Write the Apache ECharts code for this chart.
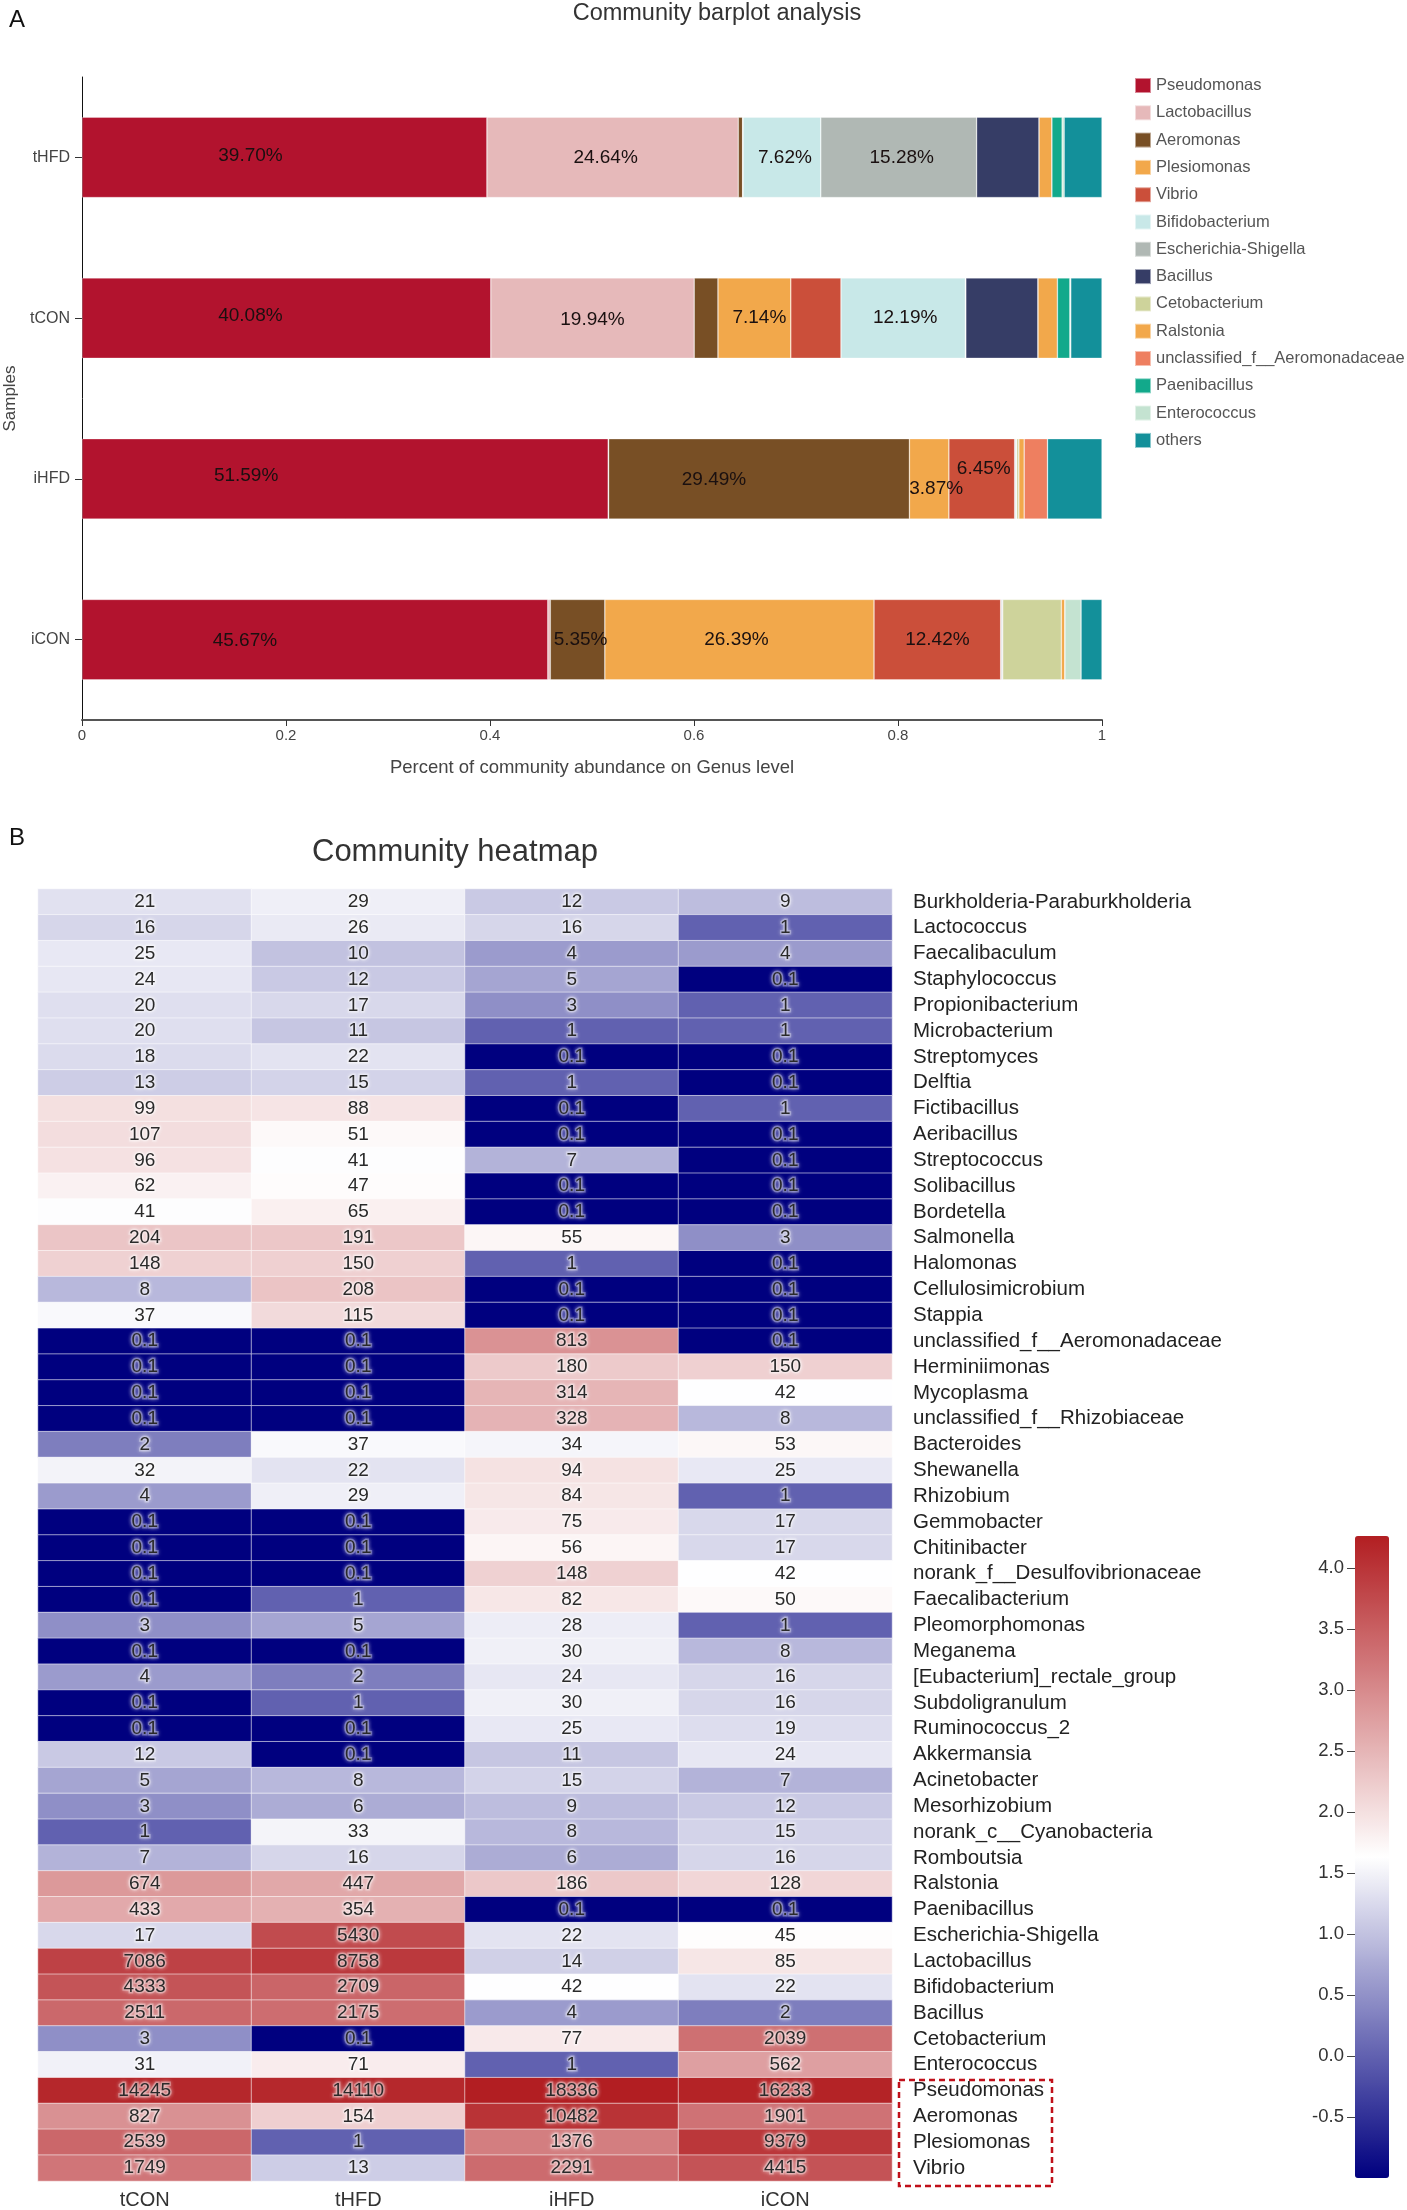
<!DOCTYPE html>
<html>
<head>
<meta charset="utf-8">
<script src="https://cdn.jsdelivr.net/npm/echarts@6/dist/echarts.min.js"></script>
<style>
html,body{margin:0;padding:0;background:#fff;}
#c{width:1407px;height:2210px;}
</style>
</head>
<body>
<div id="c"></div>
<script>
// ---------- Panel A data (percent of community abundance) ----------
const samples = ['tHFD', 'tCON', 'iHFD', 'iCON'];
const genera = ['Pseudomonas', 'Lactobacillus', 'Aeromonas', 'Plesiomonas', 'Vibrio',
  'Bifidobacterium', 'Escherichia-Shigella', 'Bacillus', 'Cetobacterium', 'Ralstonia',
  'unclassified_f__Aeromonadaceae', 'Paenibacillus', 'Enterococcus', 'others'];
const pctPseudomonas = [39.70, 40.08, 51.59, 45.67];
const pctLactobacillus = [24.64, 19.94, 0.04, 0.24];
const pctAeromonas = [0.43, 2.33, 29.49, 5.35];
const pctPlesiomonas = [0.00, 7.14, 3.87, 26.39];
const pctVibrio = [0.04, 4.92, 6.45, 12.42];
const pctBifidobacterium = [7.62, 12.19, 0.12, 0.06];
const pctEscherichia = [15.28, 0.05, 0.06, 0.13];
const pctBacillus = [6.12, 7.07, 0.01, 0.01];
const pctCetobacterium = [0.00, 0.01, 0.22, 5.74];
const pctRalstonia = [1.26, 1.90, 0.52, 0.36];
const pctUnclAeromonadaceae = [0.00, 0.00, 2.29, 0.00];
const pctPaenibacillus = [1.00, 1.22, 0.00, 0.00];
const pctEnterococcus = [0.20, 0.09, 0.00, 1.58];
const pctOthers = [3.71, 3.06, 5.34, 2.05];
const xTicks = [0, 20, 40, 60, 80, 100];

// ---------- Panel B data (read counts) ----------
const heatCols = ['tCON', 'tHFD', 'iHFD', 'iCON'];
const heatRows = ['Burkholderia-Paraburkholderia', 'Lactococcus', 'Faecalibaculum', 'Staphylococcus',
  'Propionibacterium', 'Microbacterium', 'Streptomyces', 'Delftia', 'Fictibacillus', 'Aeribacillus',
  'Streptococcus', 'Solibacillus', 'Bordetella', 'Salmonella', 'Halomonas', 'Cellulosimicrobium',
  'Stappia', 'unclassified_f__Aeromonadaceae', 'Herminiimonas', 'Mycoplasma',
  'unclassified_f__Rhizobiaceae', 'Bacteroides', 'Shewanella', 'Rhizobium', 'Gemmobacter',
  'Chitinibacter', 'norank_f__Desulfovibrionaceae', 'Faecalibacterium', 'Pleomorphomonas', 'Meganema',
  '[Eubacterium]_rectale_group', 'Subdoligranulum', 'Ruminococcus_2', 'Akkermansia', 'Acinetobacter',
  'Mesorhizobium', 'norank_c__Cyanobacteria', 'Romboutsia', 'Ralstonia', 'Paenibacillus',
  'Escherichia-Shigella', 'Lactobacillus', 'Bifidobacterium', 'Bacillus', 'Cetobacterium',
  'Enterococcus', 'Pseudomonas', 'Aeromonas', 'Plesiomonas', 'Vibrio'];
const countsTCON = [21, 16, 25, 24, 20, 20, 18, 13, 99, 107, 96, 62, 41, 204, 148, 8, 37, 0.1, 0.1, 0.1,
  0.1, 2, 32, 4, 0.1, 0.1, 0.1, 0.1, 3, 0.1, 4, 0.1, 0.1, 12, 5, 3, 1, 7, 674, 433,
  17, 7086, 4333, 2511, 3, 31, 14245, 827, 2539, 1749];
const countsTHFD = [29, 26, 10, 12, 17, 11, 22, 15, 88, 51, 41, 47, 65, 191, 150, 208, 115, 0.1, 0.1, 0.1,
  0.1, 37, 22, 29, 0.1, 0.1, 0.1, 1, 5, 0.1, 2, 1, 0.1, 0.1, 8, 6, 33, 16, 447, 354,
  5430, 8758, 2709, 2175, 0.1, 71, 14110, 154, 1, 13];
const countsIHFD = [12, 16, 4, 5, 3, 1, 0.1, 1, 0.1, 0.1, 7, 0.1, 0.1, 55, 1, 0.1, 0.1, 813, 180, 314,
  328, 34, 94, 84, 75, 56, 148, 82, 28, 30, 24, 30, 25, 11, 15, 9, 8, 6, 186, 0.1,
  22, 14, 42, 4, 77, 1, 18336, 10482, 1376, 2291];
const countsICON = [9, 1, 4, 0.1, 1, 1, 0.1, 0.1, 1, 0.1, 0.1, 0.1, 0.1, 3, 0.1, 0.1, 0.1, 0.1, 150, 42,
  8, 53, 25, 1, 17, 17, 42, 50, 1, 8, 16, 16, 19, 24, 7, 12, 15, 16, 128, 0.1,
  45, 85, 22, 2, 2039, 562, 16233, 1901, 9379, 4415];
const colorbarTicks = [-0.5, 0.0, 0.5, 1.0, 1.5, 2.0, 2.5, 3.0, 3.5, 4.0];

// ---------- styles ----------
const FONT = 'Liberation Sans, Arial, Helvetica, sans-serif';
const genusColors = ['#B2132E', '#E6B9BA', '#784F25', '#F2A84B', '#CB4F3A', '#C8E8E8', '#B0B8B4',
  '#363D66', '#CED39B', '#F2A84B', '#EE7F60', '#12A98B', '#C4E3D1', '#13909A'];
// which segments carry a value label, with small nudges [dx, dy] (sample order tHFD,tCON,iHFD,iCON)
const labelNudges = {
  'Pseudomonas': {0: [-34, -2], 1: [-36, -2], 2: [-99, -3], 3: [-70, 1]},
  'Lactobacillus': {0: [-7, 0], 1: [0, 2]},
  'Aeromonas': {2: [-45, 1], 3: [3, 0]},
  'Plesiomonas': {1: [5, 0], 2: [7, 10], 3: [-3, 0]},
  'Vibrio': {2: [2, -10], 3: [0, 0]},
  'Bifidobacterium': {0: [3, 0], 1: [2, 0]},
  'Escherichia-Shigella': {0: [3, 0]}
};

const pctSeries = [pctPseudomonas, pctLactobacillus, pctAeromonas, pctPlesiomonas, pctVibrio,
  pctBifidobacterium, pctEscherichia, pctBacillus, pctCetobacterium, pctRalstonia,
  pctUnclAeromonadaceae, pctPaenibacillus, pctEnterococcus, pctOthers];

const barSeries = genera.map((g, gi) => ({
  name: g,
  type: 'bar',
  stack: 'total',
  xAxisIndex: 0, yAxisIndex: 0,
  barWidth: '50%',
  itemStyle: {color: genusColors[gi], borderColor: 'rgba(255,255,255,0.5)', borderWidth: 0.6},
  emphasis: {disabled: true},
  data: pctSeries[gi].map((v, si) => {
    const nudge = labelNudges[g] && labelNudges[g][si];
    return {
      value: v,
      label: nudge ? {
        show: true, position: 'inside', offset: nudge,
        formatter: (p) => p.value.toFixed(2) + '%',
        color: '#1a1010', fontSize: 19, fontFamily: FONT
      } : {show: false}
    };
  })
}));

const heatCounts = [countsTCON, countsTHFD, countsIHFD, countsICON];
const heatData = [];
heatCounts.forEach((col, ci) => col.forEach((v, ri) => {
  heatData.push([ci, ri, Math.log10(v), v]);
}));
const logMax = Math.log10(Math.max(...countsIHFD));

const chart = echarts.init(document.getElementById('c'), null, {renderer: 'canvas'});
chart.setOption({
  animation: false,
  backgroundColor: '#fff',
  title: [
    {text: 'Community barplot analysis', left: 712, top: -3, textAlign: 'center',
      textStyle: {fontSize: 23.5, fontWeight: 'normal', color: '#333', fontFamily: FONT}},
    {text: 'Community heatmap', left: 450, top: 832, textAlign: 'center',
      textStyle: {fontSize: 31, fontWeight: 'normal', color: '#333', fontFamily: FONT}}
  ],
  graphic: [
    {type: 'text', left: 9, top: 8, style: {text: 'A', fontSize: 24, fill: '#111', fontFamily: FONT}},
    {type: 'text', left: 9, top: 826, style: {text: 'B', fontSize: 24, fill: '#111', fontFamily: FONT}},
    {type: 'rect', shape: {x: 899, y: 2080, width: 153, height: 106},
      style: {fill: 'none', stroke: '#C0101A', lineWidth: 2.5, lineDash: [6, 4]}}
  ],
  legend: {
    data: genera, orient: 'vertical', left: 1134, top: 77, padding: 0,
    itemWidth: 16, itemHeight: 15, itemGap: 10.3, icon: 'rect',
    selectedMode: false,
    textStyle: {fontSize: 16.5, lineHeight: 15, color: '#555', fontFamily: FONT}
  },
  grid: [
    {left: 82, top: 77, width: 1020, height: 643, containLabel: false, outerBoundsMode: 'none'},
    {left: 38, top: 889, width: 854, height: 1292, containLabel: false, outerBoundsMode: 'none'},
    {left: 1355, top: 1536, width: 34, height: 642, containLabel: false, outerBoundsMode: 'none'}
  ],
  xAxis: [
    {gridIndex: 0, type: 'value', min: 0, max: 100, interval: 20,
      name: 'Percent of community abundance on Genus level', nameLocation: 'middle', nameGap: 38,
      nameTextStyle: {fontSize: 18.5, color: '#444', fontFamily: FONT},
      axisLine: {show: true, lineStyle: {color: '#555', width: 2}},
      axisTick: {show: true, length: 6, lineStyle: {color: '#333'}},
      axisLabel: {fontSize: 15, color: '#444', margin: 8, fontFamily: FONT,
        formatter: (v) => xTicks.indexOf(v) >= 0 ? String(v / 100) : ''},
      splitLine: {show: false}},
    {gridIndex: 1, type: 'category', data: heatCols, position: 'bottom',
      axisLine: {show: false}, axisTick: {show: false},
      axisLabel: {fontSize: 20, color: '#333', margin: 9, fontFamily: FONT},
      splitLine: {show: false}},
    {gridIndex: 2, type: 'value', show: false, min: 0, max: 1}
  ],
  yAxis: [
    {gridIndex: 0, type: 'category', data: samples, inverse: true,
      name: 'Samples', nameLocation: 'middle', nameGap: 62, nameRotate: 90,
      nameTextStyle: {fontSize: 17, color: '#444', fontFamily: FONT},
      axisLine: {show: true, lineStyle: {color: '#111', width: 1}},
      axisTick: {show: true, alignWithLabel: true, length: 7, lineStyle: {color: '#333'}},
      axisLabel: {fontSize: 16, color: '#444', margin: 12, fontFamily: FONT}},
    {gridIndex: 1, type: 'category', data: heatRows, inverse: true, position: 'right',
      axisLine: {show: false}, axisTick: {show: false},
      axisLabel: {interval: 0, fontSize: 20.5, color: '#222', margin: 21, align: 'left', fontFamily: FONT}},
    {gridIndex: 2, type: 'value', min: -1, max: logMax, interval: 0.5, position: 'left',
      axisLine: {show: false},
      axisTick: {show: true, length: 8, lineStyle: {color: '#444'}},
      axisLabel: {fontSize: 18.5, color: '#333', margin: 11, fontFamily: FONT,
        showMinLabel: false, showMaxLabel: false,
        formatter: (v) => colorbarTicks.some(t => Math.abs(t - v) < 1e-6) ? v.toFixed(1) : ''},
      splitLine: {show: false}}
  ],
  visualMap: {
    type: 'continuous', seriesIndex: 14, dimension: 2,
    min: -1, max: logMax, calculable: false, realtime: false,
    left: 1355, top: 1536, itemWidth: 34, itemHeight: 642,
    orient: 'vertical', padding: 0, text: null, showLabel: false,
    inRange: {color: ['#00007F', '#FFFFFF', '#B21E22']}
  },
  series: barSeries.concat([
    {
      type: 'heatmap', xAxisIndex: 1, yAxisIndex: 1,
      data: heatData,
      itemStyle: {borderColor: 'rgba(255,255,255,0.55)', borderWidth: 1},
      emphasis: {disabled: true},
      label: {
        show: true, fontSize: 19, color: '#2a2a2a', fontFamily: FONT,
        textBorderColor: 'rgba(255,255,255,0.3)', textBorderWidth: 3,
        textShadowColor: 'rgba(255,255,255,0.9)', textShadowBlur: 4,
        formatter: (p) => String(p.data[3])
      }
    },
    {type: 'scatter', xAxisIndex: 2, yAxisIndex: 2, data: [], silent: true}
  ])
});
</script>
</body>
</html>
